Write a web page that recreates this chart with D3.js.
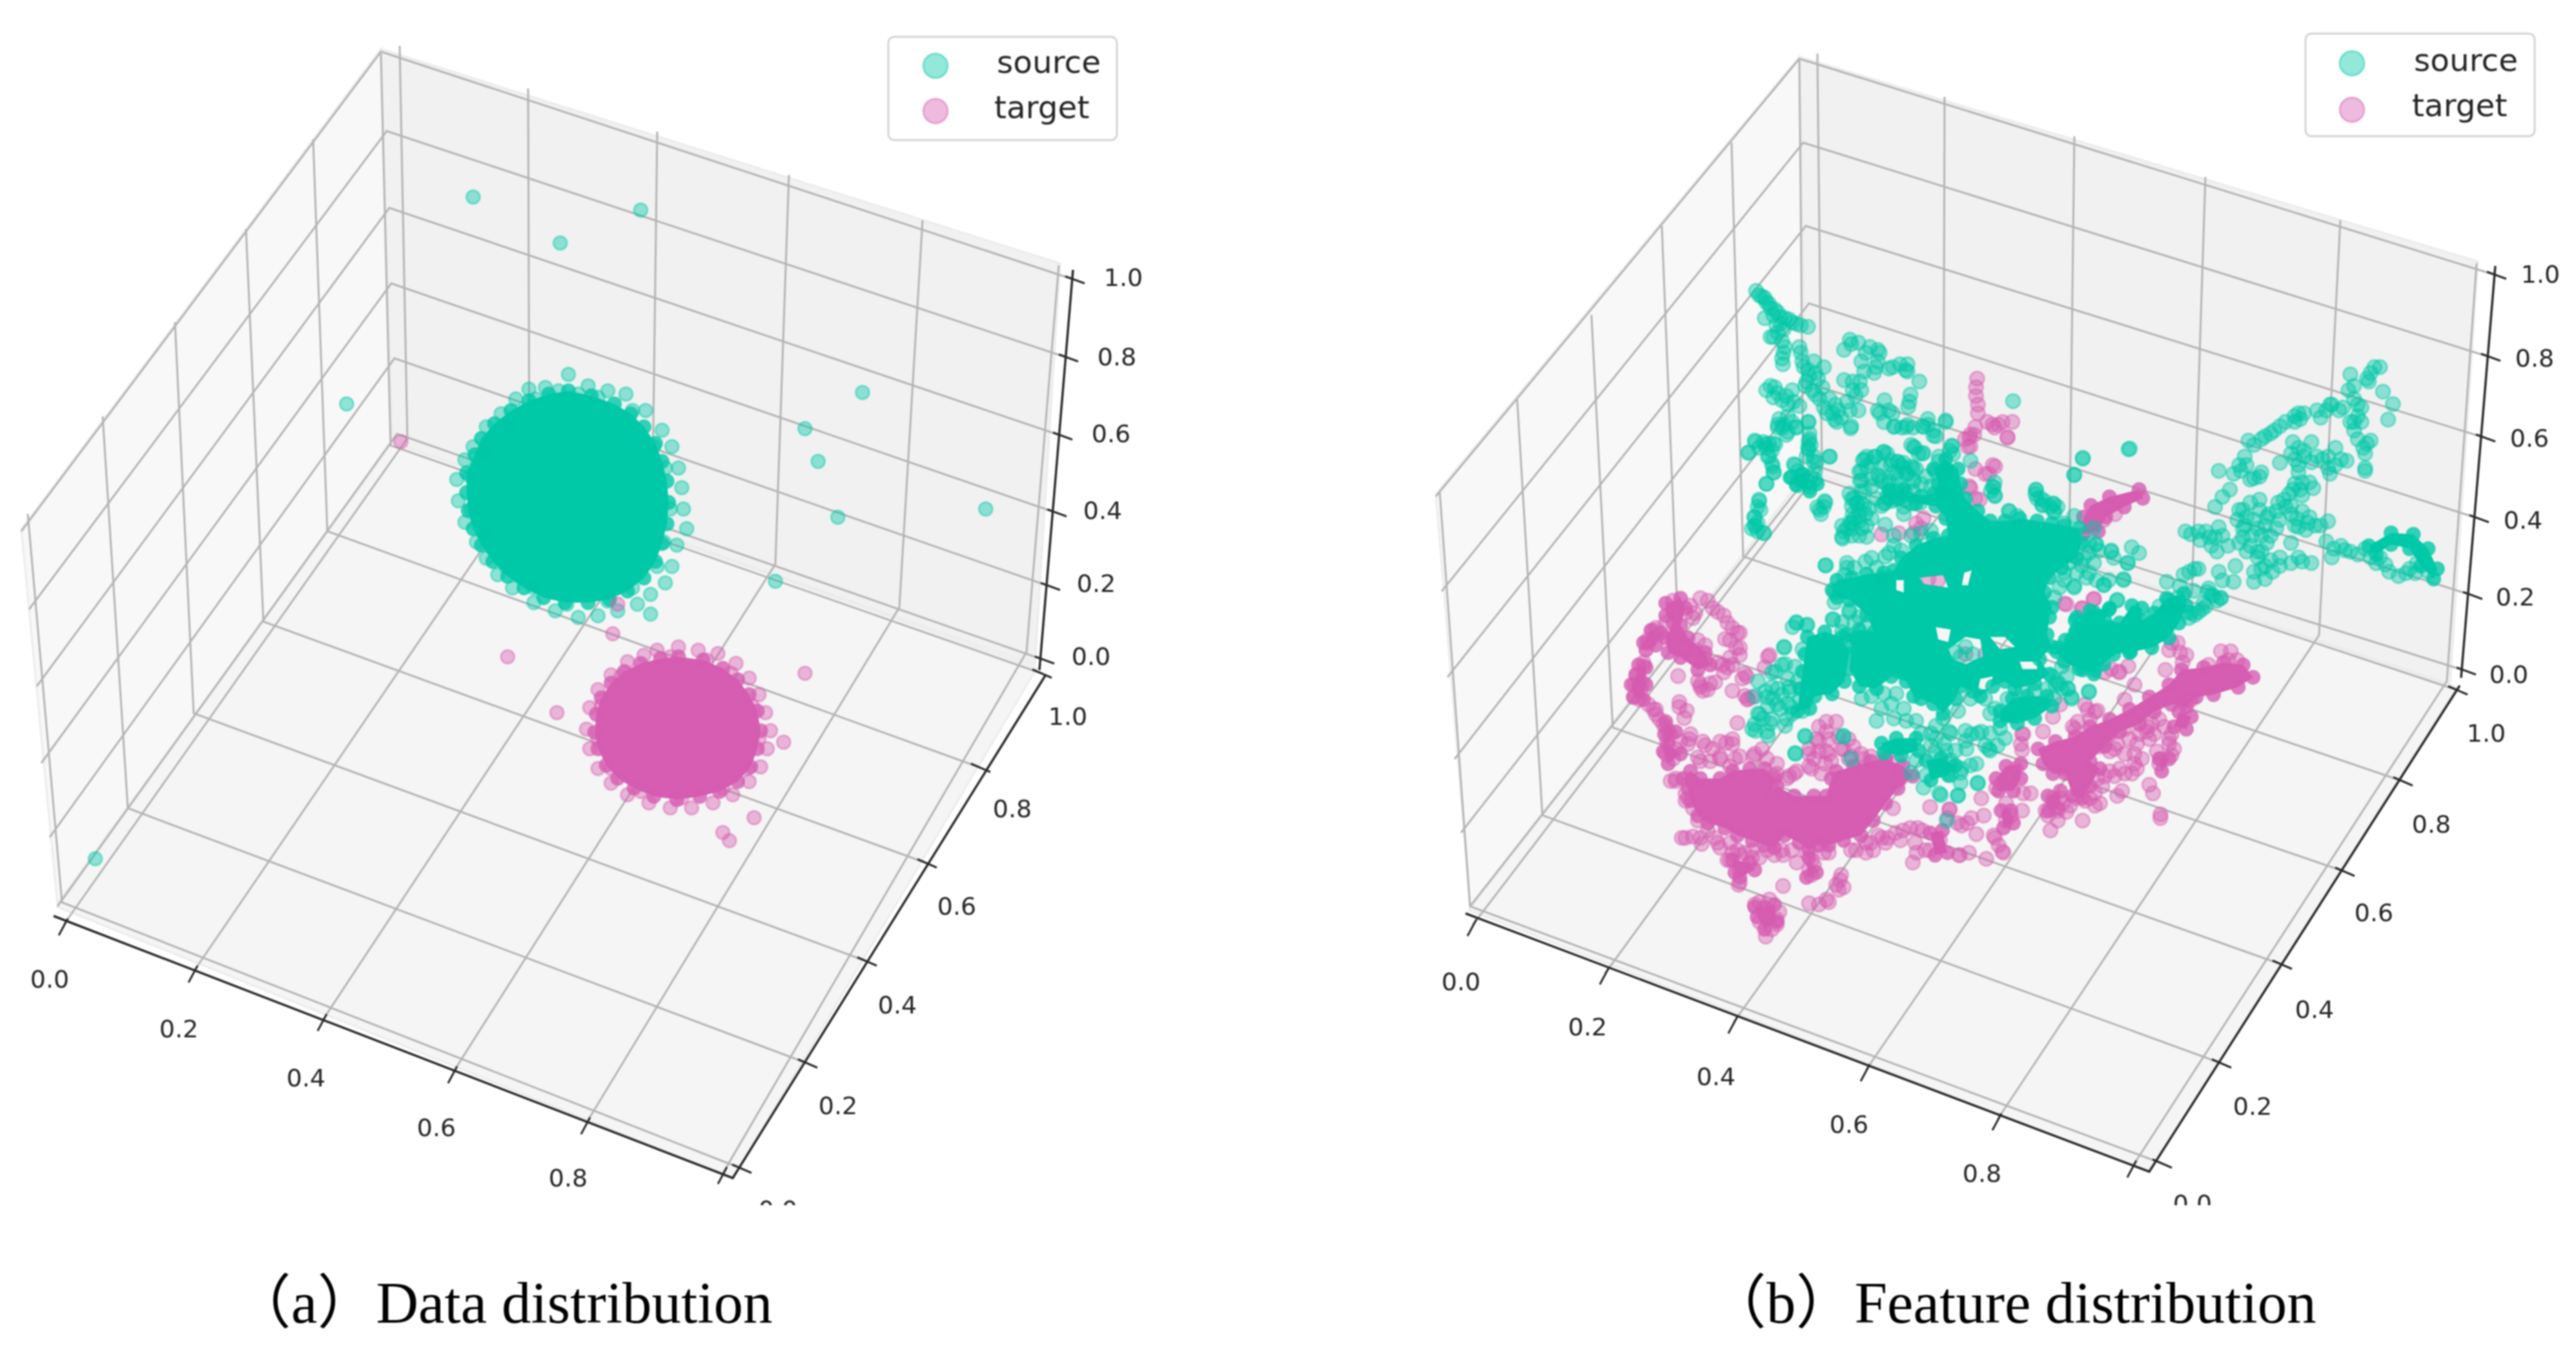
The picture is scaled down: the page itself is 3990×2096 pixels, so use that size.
<!DOCTYPE html>
<html lang="en">
<head>
<meta charset="UTF-8">
<title>Data and feature distribution</title>
<script src="https://d3js.org/d3.v7.min.js"></script>
<style>
  body { margin: 0; background: #fff; }
  svg { display: block; filter: blur(1.2px); }
  .tick-label { font-family: "DejaVu Sans", sans-serif; font-size: 38px; fill: #262626; text-anchor: middle; dominant-baseline: central; }
  .legend-label { font-family: "DejaVu Sans", sans-serif; font-size: 48.5px; fill: #262626; }
  .caption { font-family: "Liberation Serif", "Noto Sans CJK SC", serif; font-size: 91px; fill: #000; }
</style>
</head>
<body>
<svg id="chart" width="3990" height="2096"></svg>
<script>
const sourceColor = "#00C9A7";
const targetColor = "#D65DB1";
const tickLabels = ["0.0", "0.2", "0.4", "0.6", "0.8", "1.0"];
const legendNames = ["source", "target"];

// axis and grid anchor points, tick 0.0 to 1.0
const aXTicks = [[99,1432],[300,1505],[500,1580],[702,1661],[908,1740],[1120,1817]];
const aYTicks = [[1148,1810],[1250,1647],[1342,1489],[1435,1337],[1518,1189],[1613,1043]];
const aZTicks = [[1613,1021],[1622,907],[1632,793],[1641,674],[1650,553],[1660,432]];
const aBackTop = [[619,71],[818,137],[1018,204],[1222,271],[1429,341],[1640,411]];
const aBackBottom = [[631,679],[820,743],[1010,808],[1201,874],[1393,941],[1590,1010]];
const aLeftTop = [[43,796],[159,645],[271,499],[381,355],[485,216],[590,83]];
const aLeftBottom = [[96,1398],[198,1252],[300,1105],[408,963],[507,823],[605,690]];
const aLeftFront = [[89,1404],[77,1297],[64,1182],[57,1063],[45,944],[33,823]];
const aBackLeft = [[615,672],[611,555],[606,439],[603,322],[599,203],[590,80]];
const aXLabels = [[77,1517],[277,1594],[474,1670],[676,1747],[880,1825]];
const aYLabels = [[1205,1874],[1298,1713],[1390,1557],[1482,1404],[1568,1253],[1654,1110]];
const aZLabels = [[1690,1017],[1698,904],[1708,791],[1721,672],[1730,553],[1740,430]];
const aPaneLeft = [[33,820],[590,76],[608,685],[89,1400]];
const aPaneBack = [[590,76],[1642,408],[1603,1030],[608,685]];
const aPaneFloor = [[89,1405],[608,685],[1606,1035],[1135,1825]];
const aAxisLines = [[[83,1419],[1135,1825],[1620,1045]],[[1610,1038],[1662,418]]];

const bXTicks = [[2281,1433],[2486,1508],[2685,1584],[2890,1658],[3094,1734],[3303,1807]];
const bYTicks = [[3348,1802],[3440,1647],[3534,1494],[3631,1350],[3721,1210],[3806,1069]];
const bZTicks = [[3815,1038],[3825,921],[3835,802],[3845,677],[3853,552],[3862,425]];
const bBackTop = [[2815,83],[3012,150],[3213,211],[3416,274],[3625,341],[3836,408]];
const bBackBottom = [[2822,725],[3010,789],[3205,855],[3395,920],[3592,984],[3790,1055]];
const bLeftTop = [[2230,762],[2350,619],[2465,488],[2574,350],[2682,221],[2787,91]];
const bLeftBottom = [[2277,1404],[2389,1263],[2498,1127],[2600,996],[2700,862],[2793,733]];
const bLeftFront = [[2277,1404],[2263,1290],[2253,1176],[2242,1049],[2233,916],[2224,769]];
const bBackLeft = [[2813,722],[2805,595],[2802,470],[2797,350],[2793,221],[2787,91]];
const bXLabels = [[2263,1521],[2459,1591],[2658,1668],[2864,1742],[3070,1818]];
const bYLabels = [[3396,1865],[3489,1714],[3585,1564],[3677,1414],[3766,1277],[3851,1136]];
const bZLabels = [[3886,1045],[3896,925],[3908,806],[3918,679],[3926,555],[3935,425]];
const bPaneLeft = [[2224,765],[2787,88],[2800,730],[2277,1404]];
const bPaneBack = [[2787,88],[3838,405],[3795,1060],[2800,730]];
const bPaneFloor = [[2275,1410],[2800,730],[3805,1065],[3329,1815]];
const bAxisLines = [[[2270,1415],[3329,1815],[3810,1062]],[[3812,1050],[3865,412]]];

// panel (a), points in 1568x824 picture units
const aSource = [[288,120],[341,148],[211,246],[390,128],[525,239],[490,261],[498,281],[510,315],[600,310],[472,354],[396,374],[58,523],
  [346,228],[332,236],[322,237],[358,235],[370,238],[381,240],[393,250],[403,262],[409,272],[413,285],[415,297],[416,310],[418,322],[412,332],[409,345],[405,355],[396,362],[388,368],[376,372],[364,375],[352,376],[338,372],[325,367],[312,358],[303,350],[296,340],[290,330],[283,318],[279,305],[278,292],[283,280],[288,272],[296,260],[305,252],[314,243],[326,243],[340,238],[352,240],[364,242],[385,250],[398,272],[405,285],[408,310],[404,330],[400,345],[385,358],[370,366],[345,368],[325,358],[308,345],[295,325],[287,310],[286,290],[295,275],[310,258]];
const aTarget = [[244,269],[373,386],[376,368],[309,400],[339,434],[490,410],[477,452],[459,498],[440,507],[444,512],
  [413,394],[400,396],[425,396],[437,398],[448,404],[456,413],[462,423],[466,434],[469,445],[467,456],[463,467],[456,476],[446,484],[434,489],[421,492],[408,492],[395,489],[382,484],[372,477],[364,468],[359,456],[357,444],[359,431],[364,420],[372,411],[382,403],[392,399],[408,400],[430,402],[445,410],[458,430],[462,450],[455,468],[440,480],[415,486],[390,482],[372,468],[364,450],[366,430],[378,412]];
// outlines of the saturated middles of the two blobs
const aSourceCore = [[346,238],[334,240],[322,244],[311,250],[301,258],[293,267],[289,277],[284,288],[284,300],[285,311],[288,322],[293,332],[300,342],[309,351],[319,358],[331,364],[344,367],[358,367],[371,365],[382,360],[392,352],[399,342],[403,331],[406,319],[407,306],[406,293],[403,281],[399,270],[392,260],[384,252],[374,246],[360,241]];
const aTargetCore = [[413,400],[402,401],[390,404],[380,409],[372,416],[366,425],[363,435],[362,446],[364,456],[369,466],[376,474],[386,480],[398,485],[412,487],[426,485],[438,482],[449,476],[457,467],[461,456],[463,445],[461,433],[456,423],[449,414],[440,407],[428,402]];

const bSourceLeft = [[1165,225],[1185,245],[1200,265],[1215,285],[1240,300],[1265,320],[1290,335],[1320,345],[1345,350],[1250,340],[1240,370],[1215,385],[1255,400],[1260,440],[1258,480],[1195,320],[1315,420],[1325,470],[1345,500],[1370,510],[1400,490],[1340,540],[1360,570],[1385,600],[1400,630],[1430,650],[1460,665],[1490,640],[1520,640],[1495,695],[1500,570],[1470,535],[1525,540],[1540,505],[1560,420],[1520,405],[1490,395],[1470,430],[1215,555],[1240,580],[1255,605],[1290,570],[1295,610],[1315,625],[1245,670],[1275,660],[1240,700],[1270,725],[1305,700],[1345,680],[1160,745],[1190,750],[1225,755],[1140,785],[1210,800],[1220,825],[1225,855],[1200,895],[1350,740],[1345,770],[1365,800],[1300,830],[1420,800],[1290,870],[1320,885],[1350,905],[1370,850],[1175,950],[1180,985],[1160,1010],[1160,1040],[1150,1050],[1190,1065],[1385,985],[1405,960],[1540,810],[1525,885],[1505,945],[1540,970],[1520,1010],[1500,1050],[1465,1085],[1405,1178],
  [1175,240],[1195,250],[1210,270],[1230,290],[1250,315],[1280,325],[1305,340],[1225,310],[1235,345],[1260,360],[1225,385],[1265,420],[1255,460],[1320,440],[1330,490],[1350,520],[1380,530],[1365,470],[1335,555],[1370,585],[1395,560],[1420,600],[1440,620],[1410,650],[1450,640],[1480,610],[1510,590],[1530,570],[1500,540],[1445,680],[1530,470],[1545,440],[1495,410],[1200,570],[1230,560],[1270,590],[1275,620],[1225,595],[1260,690],[1290,680],[1255,700],[1210,755],[1175,770],[1200,770],[1220,780],[1350,720],[1355,760],[1375,820],[1340,800],[1310,850],[1310,900],[1340,885],[1370,880],[1355,870],[1325,865],[1170,975],[1170,1030],[1170,1060],[1500,1000],[1515,960],[1490,1030],[1530,850],[1530,920],[1470,1060],[1545,1000],[1390,1000],[1400,975]];
const bSourceRight = [[15,430],[15,470],[5,510],[55,490],[95,480],[95,505],[127,540],[103,585],[97,628],[33,605],[45,640],[20,650],[60,695],[95,690],[150,670],[135,695],[198,675],[172,730],[115,770],[135,790],[30,785],[215,765],[10,800],[70,820],[110,840],[180,800],[20,870],[65,860],[110,880],[50,925],[35,960],[90,950],[85,975],[380,608],[568,808],[545,863],[695,773],[265,815],[325,905],[330,935],[442,915],[455,945],[460,970],[490,965],[490,990],[370,990],[603,1105],[645,1130],[700,1115],[720,1135],[690,1170],[678,1225],[625,1245],[545,1250],[660,1300],[795,1235],
  [1355,490],[1345,510],[1340,540],[1370,490],[1335,530],[1290,515],[1285,570],[1300,555],[1378,575],[1405,618],[1392,672],[1330,840],[1330,850],[1240,620],[1225,640],[1210,665],[1260,640],[1300,600],[1320,630],[1290,680],[1320,680],[1300,710],[1345,745],[1325,770],[1330,790],[1165,650],[1140,660],[1140,680],[1100,695],[1075,720],[1050,740],[1030,760],[1005,800],[990,830],[975,860],[935,850],[1135,750],[1185,750],[1250,770],[1130,790],[1100,822],[1165,800],[1185,820],[1215,810],[1250,830],[1280,815],[1235,860],[1050,855],[1030,875],[1150,855],[1160,890],[1190,910],[1135,915],[1160,935],
  [965,915],[945,940],[925,975],[1020,960],[1045,950],[1110,950],[1115,975],[1000,985],[1130,1000],[1160,990],[1180,1010],[985,1020],[1030,1020],[1070,1000],[1100,1020],[1140,1040],[1195,1040],[1230,1025],[1170,1055],[1000,1050],[1040,1050],[1050,1075],[1075,1075],[1130,1100],[880,1060],[860,1070],[935,1045],[910,1080],[915,1110],[930,1130],[990,1100],[1020,1110],[1050,1130],[1225,1095],[1265,1110],[1290,1130],[1330,1120],[1345,1150],[1240,1150],[1160,1165],[1040,1150],[1075,1160],[1100,1180],[1050,1190],[1080,1200],[1030,1235],[1060,1225],[980,1180],[935,1200],[975,1235],[945,1230],
  [1370,1150],[1395,1200],[1440,1205],[1470,1170],[870,1190],[840,1210],[830,1250],[825,1290],[915,1280],[930,1300],[900,1320],[880,1340],[855,1360],
  [1015,745],[1060,730],[1085,710],[1115,680],[1150,650],[1155,670],[1200,640],[1235,620],[1270,630],[1310,620],[1310,660],[1300,680],[1310,740],[1335,755],[1150,770],[1165,780],[1140,810],[1200,800],[1230,800],[1230,840],[1265,810],[1150,830],[1010,830],[995,850],[1045,870],[1020,880],[1140,895],[1180,890],[1155,915],[1125,930],[1095,960],[1090,990],[1130,970],[1145,1015],[1175,1030],[1210,1040],[1150,1045],[990,985],[1010,1010],[1045,985],[1065,1010],[1005,1040],[1060,1040],[1090,1050],[1025,1075],[1000,1080],[1065,1100],[945,1075],[960,1110],[925,1080],[885,1090],[1040,1130],[1010,1130],[1100,1150],[1130,1170],[1060,1180],[1030,1200],[1150,1150],[1185,1170],[1245,1120],[1275,1125],[1310,1140],[1360,1170],[1385,1175],[1420,1215],[1450,1190],[1465,1205],[1500,1200],[845,1060],[900,1060],[880,1190],[855,1200],[815,1330],[800,1300],[775,1320],[905,1270],[890,1330],[870,1350],[850,1340],[940,1290],
  [20,440],[10,490],[45,495],[75,480],[90,500],[100,610],[15,640],[55,650],[80,700],[110,700],[150,690],[165,710],[125,790],[105,760],[40,790],[50,830],[85,840],[95,860],[40,900],[70,880],[40,940],[65,950],[110,920],[130,960],[85,1000],[210,780],[320,920],[440,930],[465,955],[480,975],[500,975],[330,890]];
const bSourceCenter = [[20,135],[50,90],[90,100],[130,100],[100,150],[120,190],[125,215],[95,260],[65,330],[45,395],[50,430],[85,460],[265,90],[265,120],[205,180],[285,170],[350,150],[300,355],[330,330],[140,20],[180,50],[215,30],[265,10],[435,35],[370,0],[570,10],[610,30],[660,30],[730,30],[770,65],[820,10],[690,110],[730,135],[845,105],[1375,155],[1340,225],[1560,120],[485,165],[530,150],[570,130],[625,170],[680,190],[500,190],[545,225],[590,250],[480,245],[490,290],[440,320],[470,370],[510,360],[450,400],[420,440],[480,440],[400,475],[500,475],[575,425],[610,510],[575,555],[495,575],[420,600],[335,590],[215,820],[260,830],[365,810],[430,780],[200,840],[165,920],[240,930],[1015,275],[1020,310],[1185,285],[1190,320],[1210,345],[1255,340],[1260,375],[1430,505],[1490,530],[1555,580],[1540,650],[1460,670],[1340,680],[1515,730],[1400,620],[1370,590],[1270,1060],[1315,1090],[1330,1130],[1400,1100],[1290,1090],[1075,370],[1110,390],[1340,390],[1300,420],[1420,440],[640,185],[660,220],[520,270],[540,320],[570,340],[640,280],[690,250],[720,260],[400,430],[460,340],[440,470],[860,940],[900,920],[930,950],[880,960],
  [90,1100],[140,1090],[180,1050],[130,1020],[170,990],[210,1000],[190,1100],[230,1130],[100,1160],[150,1170],[200,1190],[60,1190],[110,1230],[50,1260],[100,1280],[950,1270],[980,1320],[1000,1340],[920,1400],[900,1300],[860,1340],[1030,1320],[760,1270],[720,1270],[760,1320],[800,1400],[840,1380],[880,1430],[210,1350],[405,1280],[730,1490],[800,1520],[870,1520],[950,1470],[250,1280],
  [500,150],[520,175],[560,190],[600,165],[650,175],[700,200],[610,215],[560,250],[520,240],[470,210],[620,290],[660,300],[600,330],[560,350],[680,340],[740,230],[780,210],[760,270],[810,300],[850,140],[790,170],[830,210],[440,350],[430,300],[480,340],[520,400],[470,410],[440,420],[500,430],[470,470],[610,470],[590,540],[640,530],[520,560],[420,580],[410,630],[450,600],[540,600],[680,470],[720,460],[760,450],[560,640],[370,700],[370,740],[430,770],[470,800],[510,830],[450,820],[400,820],[400,860],[1400,500],[1440,530],[1380,560],[1420,580],[1350,620],[1300,650],[1280,680],[1260,720],[1300,620],[1320,580],[1400,540],[1500,560],[1480,650],[1430,650],[1390,640],[1290,1000],[1310,1040],[1250,1040],[1280,1070],[1230,1090],[1260,1130],[1180,1100],[1130,1100],[1070,1130],[1020,1170],[1000,1190],[1080,1200],[980,1130],[920,1130],[870,1180],[810,1210],[780,1240],[700,1220],[650,1170],[600,1150],[570,1110],[520,1120],[480,1130],[620,1110],[560,1170],[610,1210],[540,1220],[660,1220],[780,1290],[840,1270],[1040,1250],[1000,1270],[1060,1290],[900,1260],[820,1340],[780,1350],[700,1380],[740,1440],[680,1430],[840,1440],[60,1060],[220,1060],[50,1120],[80,1210],[180,1150],[240,1180],[170,1240],[120,1130],[880,1470]];
const bSourceSouthWest = [[770,430],[810,460],[750,470],[840,430],[790,500],[850,510],[720,540],[770,560],[830,560],[700,580],[750,610],[690,600],[810,340],[770,370],[820,270],[870,170],[910,180],[1015,155],[905,630],[865,700],[1060,630],[1090,720]];
const bSourceSouthEast = [[615,450],[545,470],[530,435],[480,420],[165,820],[85,870],[10,860],[40,970],[180,610],[140,620],[210,680],[50,610],[30,660],[160,740],[100,760],[50,740],[120,680],[1030,130],[1080,90],[1120,60],[1150,70],[1040,40],[1100,30]];

const bTargetRight = [[283,530],[280,560],[280,590],[285,620],[285,650],[310,680],[340,690],[378,680],[365,735],[330,700],[262,735],[265,765],[325,830],[315,860],[265,910],[290,950],[250,740],[275,725],[655,1000],[625,1020]];
const bTargetCenter = [[920,60],[940,30],[1010,20],[1070,70],[910,110],[1020,190],[980,220],[940,200],[915,270],[940,320],[1050,10],[700,420],[730,400],[720,440],[690,460],[630,460],[560,465],[750,645],[790,650],[900,950],[980,950],[820,1010],[1300,745],[1420,725],[1370,765],[1150,740],[1520,1020],[1490,1010],[15,1040],[20,1130],[100,960]];
const bTargetSouthWest = [[480,70],[510,80],[550,125],[575,140],[610,190],[640,210],[580,235],[625,270],[600,310],[590,350],[575,370],[660,375],[650,395],[610,445],[670,480],[390,385],[480,420],[520,415],[540,410],[490,445],[395,490],[425,525],[415,555],[290,520],[300,540],[630,575],[470,240],[500,260],[450,150],[420,130],[760,300],[740,350],[300,190],[270,250],[250,345],[220,380],[240,440],[210,470],[330,580],[350,610],[435,640],[500,665],[585,655],[530,680],[640,710],[695,710],[610,640],[480,730],[380,810],[430,880],[405,1040],[450,1035],[485,1065],[550,1060],[610,1100],[640,1110],[690,1090],[720,1120],[815,1110],[870,1140],[930,1130],[1000,1100],[930,1190],[1045,1210],[1040,1250],[1000,1300],[920,1305],[815,1235],[635,1230],[745,1440],[790,1390],[1180,1090],[1215,1040],[1270,1020],[1330,1000],[1355,1100],[1340,1140],[1380,1010],[1530,1110],[1090,1090],[780,790],[830,800],[860,780],[930,760],[985,740],[1090,710],[1140,720],[960,690],[990,610],[1030,570],[1080,640],[920,680],[1410,915],[1490,925],[1260,920],[990,690],[1130,700],[1480,960],[1520,980],[1560,980],[1050,680],[1000,640],[950,640],[560,720],[600,750],[1140,790],[1240,780],[1290,800],[1150,1060],[1230,1060],[1290,1050],[980,1020],[730,1030],[590,1130],[660,1100],
  [370,80],[440,100],[460,130],[530,110],[590,170],[630,210],[600,240],[640,300],[610,340],[570,340],[640,270],[550,330],[500,320],[460,280],[420,260],[370,240],[380,130],[340,170],[300,220],[265,240],[290,200],[250,330],[215,420],[245,410],[235,480],[270,500],[300,520],[315,560],[340,590],[360,620],[345,650],[340,700],[370,720],[400,650],[430,660],[380,680],[440,620],[490,650],[560,650],[610,660],[470,715],[560,710],[520,730],[620,720],[700,700],[750,720],[790,740],[730,680],[480,430],[510,440],[470,405],[395,510],[660,465],[690,470],[790,780],[840,790],[870,770],[920,750],[970,780],[940,720],[1000,700],[1060,680],[1100,670],[1140,760],[1040,630],[990,570],[960,590],[920,700],[960,650],[1010,730],[1080,720],[1170,710],[1230,710],[1280,730],[380,800],[360,810],[420,860],[420,890],[450,920],[470,970],[510,1010],[540,1040],[420,1040],[480,1040],[560,1080],[600,1060],[630,1090],[600,1130],[640,1170],[690,1120],[640,1220],[750,1090],[780,1110],[810,1090],[850,1090],[910,1100],[940,1150],[920,1170],[980,1100],[1050,1190],[1030,1230],[1060,1240],[990,1290],[960,1310],[700,1310],[720,1300],[760,1290],[800,1340],[790,1370],[720,1380],[770,1410],[1150,1100],[1170,1060],[1200,1030],[1240,1040],[1300,1010],[1350,1060],[1390,1090],[1410,1090],[1450,1050],[1360,1000],[1110,1090]];
const bTargetSouthEast = [[1150,285],[1190,285],[1215,320],[950,250],[985,290],[995,330],[925,360],[775,345],[740,370],[680,370],[635,75],[525,95],[590,110],[500,500],[470,550],[430,610],[560,600],[610,520],[650,525],[345,620],[345,685],[300,780],[350,860],[380,860],[345,930],[280,900],[235,1040],[265,1095],[200,1125],[130,1100],[90,1110],[160,1025],[50,925],[180,880],[190,950],[140,960],[100,990],[800,420],[760,480],[1030,480],[1000,470],[850,610],[880,620],[940,640],[860,640],[890,690],[950,705],[860,825],[875,860],[905,945],[905,960],[730,870],[750,850],[640,910],[590,970],[490,970],[460,1010],[525,935],[440,930],[800,740],[740,760],[700,770],[790,780],[670,830],[620,880],[720,680],[810,660],[660,670],[570,820],[600,780],[500,880],[470,880],
  [600,500],[620,560],[640,530],[570,570],[550,590],[700,620],[760,600],[780,640],[820,620],[850,590],[900,560],[870,580],[920,590],[950,620],[960,680],[940,660],[910,720],[900,740],[700,690],[730,660],[760,700],[800,700],[830,720],[810,760],[760,780],[720,790],[680,790],[650,800],[640,860],[660,900],[600,890],[560,880],[540,910],[510,900],[470,900],[450,950],[490,930],[320,760],[290,790],[260,820],[240,840],[300,950],[280,970],[230,1030],[250,1070],[270,1100],[350,620],[340,660],[1020,480],[960,460],[1010,300],[940,280],[975,250],[1100,340],[1180,320]];

// saturated areas of panel (b) where the markers stack up, outlined from the crops
const bSourceMass = [[820,160],[870,200],[880,260],[900,320],[950,370],[1000,410],[1060,410],[1120,400],[1190,410],[1250,420],[1300,430],[1360,440],[1370,500],[1350,560],[1290,600],[1240,640],[1220,700],[1250,760],[1240,800],[1230,870],[1250,920],[1200,970],[1240,1030],[1180,1070],[1100,1090],[1060,1060],[1010,1080],[960,1120],[930,1100],[880,1080],[860,1130],[810,1190],[770,1150],[720,1130],[690,1120],[660,1060],[600,1040],[540,1090],[470,1080],[430,1010],[440,920],[420,870],[470,850],[530,860],[500,790],[430,730],[380,720],[360,690],[380,650],[440,640],[500,625],[570,620],[610,610],[640,560],[700,510],[770,480],[830,470],[820,400],[780,350],[700,340],[630,320],[590,320],[590,285],[650,285],[720,310],[770,300],[790,260],[770,200]];
const bSourceGaps = [[[715,640],[810,630],[830,680],[730,665]],[[830,930],[900,880],[960,890],[970,960],[900,990],[850,970]],[[960,1050],[1010,1040],[1000,1090],[950,1095]],[[1000,880],[1060,880],[1100,920],[1040,930]],[[895,620],[925,610],[910,670],[885,670]],[[1120,980],[1190,980],[1190,1010],[1130,1010]],[[620,650],[650,650],[650,700],[620,690]],[[780,840],[840,850],[830,900],[790,890]]];
const bSourceCoreCenter = [[[260,880],[330,860],[400,880],[430,950],[410,1060],[360,1110],[290,1120],[270,1170],[220,1180],[230,1090],[240,1020],[250,950]],
  [[1040,1180],[1090,1130],[1150,1120],[1230,1120],[1250,1160],[1180,1210],[1110,1230],[1040,1220]],
  [[1350,800],[1420,780],[1480,770],[1440,850],[1460,900],[1480,840],[1568,820],[1568,940],[1500,950],[1460,990],[1420,1030],[1360,1010],[1300,980],[1270,940],[1330,890],[1350,850]],
  [[560,1310],[620,1290],[700,1290],[710,1340],[640,1360],[570,1350]],[[740,1380],[800,1370],[860,1400],[830,1440],[760,1460]],
  [[190,235],[240,220],[300,260],[270,290],[215,265]]];
const bSourceCoreSouthEast = [[[560,160],[620,120],[700,110],[680,160],[740,170],[790,100],[830,110],[830,160],[880,130],[930,70],[1000,50],[1010,100],[980,170],[940,230],[870,270],[780,290],[700,280],[660,300],[640,360],[590,360],[560,320],[490,270],[520,240],[560,210]]];
const bSourceCoreRight = [[[1340,1110],[1400,1065],[1460,1070],[1500,1120],[1525,1190],[1515,1225],[1480,1180],[1450,1120],[1400,1105],[1360,1140]]];
const bTargetCoreSouthWest = [[[440,770],[480,800],[560,800],[610,770],[680,760],[740,760],[780,800],[770,860],[790,830],[860,870],[940,870],[990,870],[1010,800],[1030,770],[1100,750],[1170,730],[1230,720],[1300,750],[1340,790],[1280,840],[1230,900],[1180,970],[1130,1030],[1060,1050],[1000,1070],[960,1070],[920,1090],[880,1060],[820,1030],[780,1080],[740,1070],[690,1050],[630,1030],[580,1000],[510,980],[470,950],[440,890],[430,840],[410,800]],
  [[340,90],[400,70],[420,110],[400,180],[430,230],[500,290],[520,340],[470,360],[400,310],[350,290],[340,230],[370,170],[340,140]],
  [[280,200],[320,210],[300,260],[260,280],[250,250]],[[230,340],[260,350],[260,420],[250,480],[210,470],[200,420],[220,380]],
  [[340,570],[380,610],[350,660],[400,700],[350,740],[330,690],[335,620]],[[740,1320],[780,1310],[790,1380],[740,1410],[710,1360],[700,1320]],
  [[610,1130],[680,1140],[700,1170],[640,1200],[620,1180]],[[1410,1020],[1460,1010],[1480,1100],[1430,1110]],[[920,1120],[950,1180],[910,1200]]];
const bTargetCoreSouthEast = [[[410,680],[480,650],[560,630],[620,590],[700,560],[780,520],[860,470],[940,420],[990,360],[1080,350],[1160,330],[1240,340],[1280,390],[1220,430],[1120,460],[1050,470],[1010,510],[950,500],[880,530],[820,580],[740,610],[680,670],[620,730],[660,760],[620,830],[590,880],[550,870],[520,780],[470,780],[430,740]],
  [[980,530],[1030,550],[1010,600],[960,590]],[[240,800],[280,750],[340,740],[340,800],[310,850],[250,850]],[[260,930],[300,930],[310,980],[270,1000]],[[450,870],[500,850],[490,920],[450,930]],[[900,720],[940,720],[910,770]]];
const bTargetCoreRight = [[[590,970],[640,940],[720,915],[730,945],[680,975],[630,1010],[610,1060],[570,1070],[570,1010]]];

const svg = d3.select("#chart");
const line = d3.line();

function cropScale(x0, x1, y0, y1, wide, high) {
  const sx = d3.scaleLinear().domain([0, wide]).range([x0, x1]);
  const sy = d3.scaleLinear().domain([0, high]).range([y0, y1]);
  return d => [sx(d[0]), sy(d[1])];
}
const wholePicture = cropScale(0, 3990, 0, 2096, 1568, 824);
const cropLeft = cropScale(2200, 2900, 350, 1050, 1568, 1568);
const cropRight = cropScale(2900, 3800, 350, 1050, 1568, 1568);
const cropCenter = cropScale(2700, 3300, 650, 1250, 1568, 1568);
const cropSouthWest = cropScale(2450, 3050, 900, 1500, 1568, 1568);
const cropSouthEast = cropScale(3000, 3600, 900, 1500, 1568, 1568);

svg.append("defs").append("clipPath").attr("id", "plot-clip")
  .append("rect").attr("width", 3990).attr("height", 1867);

function drawFrame(p) {
  const g = svg.append("g");
  [[p.paneLeft, "#f8f8f8"], [p.paneBack, "#f1f1f1"], [p.paneFloor, "#f5f5f5"]].forEach(([pts, c]) => {
    g.append("path").attr("d", line(pts) + "Z").attr("fill", c).attr("stroke", "#ececec").attr("stroke-width", 3);
  });
  // each grid line has a bend where two panes meet
  const grid = [];
  tickLabels.forEach((_, i) => {
    grid.push([p.xTicks[i], p.backBottom[i], p.backTop[i]]);
    grid.push([p.yTicks[i], p.leftBottom[i], p.leftTop[i]]);
    grid.push([p.leftFront[i], p.backLeft[i], p.zTicks[i]]);
  });
  g.selectAll(".grid").data(grid).join("path").attr("class", "grid")
    .attr("d", line).attr("fill", "none").attr("stroke", "#b4b4b4").attr("stroke-width", 3);
  g.selectAll(".axis").data(p.axisLines).join("path").attr("class", "axis")
    .attr("d", line).attr("fill", "none").attr("stroke", "#2a2a2a").attr("stroke-width", 3.5);
  const tickMarks = (pts, a, b) => g.selectAll(null).data(pts).join("line")
    .attr("x1", d => d[0] + a[0]).attr("y1", d => d[1] + a[1])
    .attr("x2", d => d[0] + b[0]).attr("y2", d => d[1] + b[1])
    .attr("stroke", "#2a2a2a").attr("stroke-width", 3);
  tickMarks(p.xTicks, [6, -9], [-8, 17]);
  tickMarks(p.yTicks, [-14, -6], [16, 7]);
  tickMarks(p.zTicks, [-10, -4], [20, 7]);
  const labels = svg.append("g").attr("clip-path", "url(#plot-clip)");
  [p.xLabels, p.yLabels, p.zLabels].forEach(set => {
    labels.selectAll(null).data(set).join("text").attr("class", "tick-label")
      .attr("x", d => d[0]).attr("y", d => d[1]).text((d, i) => tickLabels[i]);
  });
}

// a saturated area: solid inside, one marker on each outline point so the rim stays bumpy
function drawCores(rings, crop, color, gaps = []) {
  const g = svg.append("g");
  rings.forEach(ring => {
    const d = [ring].concat(gaps).map(r => line(r.map(crop)) + "Z").join("");
    g.append("path").attr("d", d).attr("fill", color).attr("fill-rule", "evenodd");
    g.selectAll(null).data(ring).join("circle")
      .attr("cx", p => crop(p)[0]).attr("cy", p => crop(p)[1]).attr("r", 11.5)
      .attr("fill", color).attr("fill-opacity", 0.8);
  });
}

function drawPoints(pts, crop, color, r) {
  svg.append("g").selectAll("circle").data(pts).join("circle")
    .attr("cx", d => crop(d)[0]).attr("cy", d => crop(d)[1]).attr("r", r)
    .attr("fill", color).attr("fill-opacity", 0.42)
    .attr("stroke", color).attr("stroke-opacity", 0.42).attr("stroke-width", 3);
}

function drawLegend(box, mark, text) {
  const g = svg.append("g");
  g.append("rect").attr("x", box[0]).attr("y", box[1]).attr("width", box[2]).attr("height", box[3])
    .attr("rx", 9).attr("fill", "#fff").attr("stroke", "#d4d4d4").attr("stroke-width", 3);
  legendNames.forEach((name, i) => {
    const color = i ? targetColor : sourceColor;
    g.append("circle").attr("cx", mark[i][0]).attr("cy", mark[i][1]).attr("r", 19)
      .attr("fill", color).attr("fill-opacity", 0.42).attr("stroke", color).attr("stroke-opacity", 0.42).attr("stroke-width", 3);
    g.append("text").attr("class", "legend-label").attr("x", text[i][0]).attr("y", text[i][1]).text(name);
  });
}

// panel (a)
drawFrame({ xTicks: aXTicks, yTicks: aYTicks, zTicks: aZTicks, backTop: aBackTop, backBottom: aBackBottom, leftTop: aLeftTop, leftBottom: aLeftBottom, leftFront: aLeftFront, backLeft: aBackLeft, xLabels: aXLabels, yLabels: aYLabels, zLabels: aZLabels, paneLeft: aPaneLeft, paneBack: aPaneBack, paneFloor: aPaneFloor, axisLines: aAxisLines });
drawCores([aSourceCore], wholePicture, sourceColor);
drawPoints(aSource, wholePicture, sourceColor, 10.5);
drawCores([aTargetCore], wholePicture, targetColor);
drawPoints(aTarget, wholePicture, targetColor, 10.5);
drawLegend([1376, 57, 354, 160], [[1449, 102], [1449, 172]], [[1544, 113], [1540, 183]]);

// panel (b), target under source
drawFrame({ xTicks: bXTicks, yTicks: bYTicks, zTicks: bZTicks, backTop: bBackTop, backBottom: bBackBottom, leftTop: bLeftTop, leftBottom: bLeftBottom, leftFront: bLeftFront, backLeft: bBackLeft, xLabels: bXLabels, yLabels: bYLabels, zLabels: bZLabels, paneLeft: bPaneLeft, paneBack: bPaneBack, paneFloor: bPaneFloor, axisLines: bAxisLines });
drawCores(bTargetCoreSouthWest, cropSouthWest, targetColor);
drawCores(bTargetCoreSouthEast, cropSouthEast, targetColor);
drawCores(bTargetCoreRight, cropRight, targetColor);
drawPoints(bTargetRight, cropRight, targetColor, 11);
drawPoints(bTargetCenter, cropCenter, targetColor, 11);
drawPoints(bTargetSouthWest, cropSouthWest, targetColor, 11);
drawPoints(bTargetSouthEast, cropSouthEast, targetColor, 11);
drawCores([bSourceMass], cropCenter, sourceColor, bSourceGaps);
drawCores(bSourceCoreCenter, cropCenter, sourceColor);
drawCores(bSourceCoreSouthEast, cropSouthEast, sourceColor);
drawCores(bSourceCoreRight, cropRight, sourceColor);
drawPoints(bSourceLeft, cropLeft, sourceColor, 11);
drawPoints(bSourceRight, cropRight, sourceColor, 11);
drawPoints(bSourceCenter, cropCenter, sourceColor, 11);
drawPoints(bSourceSouthWest, cropSouthWest, sourceColor, 11);
drawPoints(bSourceSouthEast, cropSouthEast, sourceColor, 11);
drawLegend([3571, 52, 355, 159], [[3643, 98], [3643, 170]], [[3739, 110], [3736, 180]]);

svg.append("text").attr("class", "caption").attr("x", 360).attr("y", 2049).text("（a）Data distribution");
svg.append("text").attr("class", "caption").attr("x", 2645).attr("y", 2049).text("（b）Feature distribution");
</script>
</body>
</html>
